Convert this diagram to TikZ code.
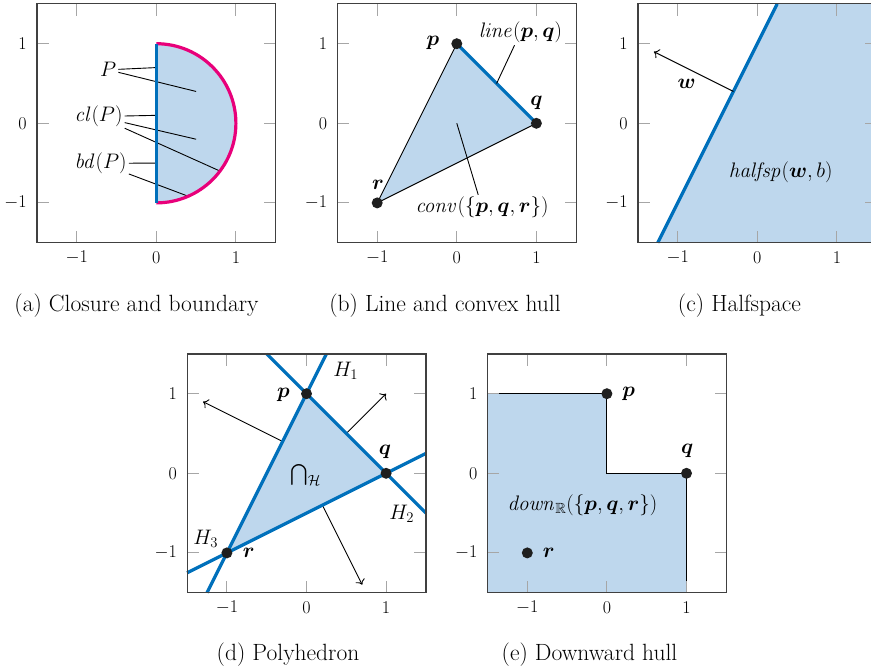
\RequirePackage{fix-cm}
\documentclass[tikz,border=0pt]{standalone}
\usepackage{amsmath,amssymb,bm}
\usetikzlibrary{arrows.meta}
\definecolor{fillblue}{RGB}{190,215,237}
\definecolor{lineblue}{RGB}{0,112,187}
\definecolor{magline}{RGB}{232,0,122}
\tikzset{
  axframe/.style={draw=black!75, line width=1.2pt},
  tk/.style={draw=black!35, line width=1pt},
  xtl/.style={font=\fontsize{18}{20}\selectfont, inner sep=0pt, anchor=center, yshift=-14.5pt},
  ytl/.style={font=\fontsize{18}{20}\selectfont, inner sep=0pt, anchor=east, xshift=-10pt},
  lbl/.style={font=\fontsize{21}{25}\selectfont, inner sep=2pt},
  captext/.style={font=\fontsize{23.5}{28}\selectfont, inner sep=0pt, anchor=base},
  bluestroke/.style={draw=lineblue, line width=3.2pt},
  magstroke/.style={draw=magline, line width=3.2pt},
  thinline/.style={draw=black, line width=0.9pt},
  pinline/.style={draw=black, line width=0.9pt},
  arrowline/.style={draw=black, line width=0.9pt, -{To[length=5pt,width=10pt]}},
  dotnode/.style={circle, fill=black!88, minimum size=11pt, inner sep=0pt}
}
\newcommand{\axisticks}[1]{%
  \foreach \t in {-1,0,1}{
    \draw[tk] (\t,-1.5) -- ++(0pt,11.7pt);
    \draw[tk] (\t,1.5) -- ++(0pt,-11.7pt);
    \draw[tk] (-1.5,\t) -- ++(11.7pt,0pt);
    \draw[tk] (1.5,\t) -- ++(-11.7pt,0pt);
    \node[xtl] (#1x\t) at (\t,-1.5) {$\t$};
    \node[ytl] (#1y\t) at (-1.5,\t) {$\t$};
  }
  \draw[axframe] (-1.5,-1.5) rectangle (1.5,1.5);
}
\begin{document}
\begin{tikzpicture}[x=1pt,y=-1pt]
\useasboundingbox (0,0) rectangle (871,669);

% ---------------- (a) ----------------
\begin{scope}[shift={(156.3,123.3)}, x=79.6pt, y=79.6pt]
  \fill[fillblue] (0,1) arc[start angle=90, end angle=-90, radius=1] -- cycle;
  \coordinate (aP1) at (0,0.7);
  \coordinate (aP2) at (0.5,0.4);
  \coordinate (aC1) at (0,0.1);
  \coordinate (aC2) at (0.5,-0.2);
  \coordinate (aC3) at (0.8,-0.6);
  \coordinate (aB1) at (0,-0.5);
  \coordinate (aB2) at (-66.4:1);
  \node[lbl] (aP) at (-0.605,0.672) {$P$};
  \node[lbl] (aCl) at (-0.725,0.085) {$\mathit{cl}(P)$};
  \node[lbl] (aBd) at (-0.70,-0.503) {$\mathit{bd}(P)$};
  \draw[pinline] (aP1) -- (aP);
  \draw[pinline] (aP2) -- (aP);
  \draw[pinline] (aC1) -- (aCl);
  \draw[pinline] (aC2) -- (aCl);
  \draw[pinline] (aC3) -- (aCl);
  \draw[pinline] (aB1) -- (aBd);
  \draw[pinline] (aB2) -- (aBd);
  \draw[magstroke] (0,1) arc[start angle=90, end angle=-90, radius=1];
  \draw[bluestroke] (0,-1) -- (0,1);
  \axisticks{a}
\end{scope}

% ---------------- (b) ----------------
\begin{scope}[shift={(456.8,123.3)}, x=79.6pt, y=79.6pt]
  \fill[fillblue] (0,1) -- (1,0) -- (-1,-1) -- cycle;
  \draw[thinline] (1,0) -- (-1,-1) -- (0,1);
  \draw[bluestroke] (0,1) -- (1,0);
  \coordinate (bL) at (0.5,0.5);
  \coordinate (bC) at (0,0);
  \node[lbl] (bline) at (0.8,1.14) {$\mathit{line}(\bm{p},\bm{q})$};
  \node[lbl] (bconv) at (0.317,-1.058) {$\mathit{conv}(\{\bm{p},\bm{q},\bm{r}\})$};
  \draw[pinline] (bL) -- (bline);
  \draw[pinline] (bC) -- (bconv);
  \node[dotnode] (bp) at (0,1) {};
  \node[dotnode] (bq) at (1,0) {};
  \node[dotnode] (br) at (-1,-1) {};
  \node[lbl] (bpl) at (-0.30,1.01) {$\bm{p}$};
  \node[lbl] (bql) at (1.0,0.26) {$\bm{q}$};
  \node[lbl] (brl) at (-0.99,-0.77) {$\bm{r}$};
  \axisticks{b}
\end{scope}

% ---------------- (c) ----------------
\begin{scope}[shift={(757.3,123.3)}, x=79.6pt, y=79.6pt]
  \fill[fillblue] (-1.25,-1.5) -- (0.25,1.5) -- (1.5,1.5) -- (1.5,-1.5) -- cycle;
  \draw[bluestroke] (-1.25,-1.5) -- (0.25,1.5);
  \coordinate (cw0) at (-0.3,0.4);
  \coordinate (cw1) at (-1.3,0.9);
  \draw[arrowline] (cw0) -- (cw1);
  \node[lbl] (cw) at (-0.887,0.496) {$\bm{w}$};
  \node[lbl] (chs) at (0.295,-0.614) {$\mathit{halfsp}(\bm{w},b)$};
  \axisticks{c}
\end{scope}

% ---------------- (d) ----------------
\begin{scope}[shift={(306.5,473.3)}, x=79.6pt, y=79.6pt]
  \fill[fillblue] (0,1) -- (1,0) -- (-1,-1) -- cycle;
  \coordinate (d10) at (-0.3,0.4);
  \coordinate (d11) at (-1.3,0.9);
  \coordinate (d20) at (0.5,0.5);
  \coordinate (d21) at (1,1);
  \coordinate (d30) at (0.2,-0.4);
  \coordinate (d31) at (0.7,-1.4);
  \draw[arrowline] (d10) -- (d11);
  \draw[arrowline] (d20) -- (d21);
  \draw[arrowline] (d30) -- (d31);
  \draw[bluestroke] (-1.25,-1.5) -- (0.25,1.5);
  \draw[bluestroke] (-0.5,1.5) -- (1.5,-0.5);
  \draw[bluestroke] (-1.5,-1.25) -- (1.5,0.25);
  \node[dotnode] (dp) at (0,1) {};
  \node[dotnode] (dq) at (1,0) {};
  \node[dotnode] (dr) at (-1,-1) {};
  \node[lbl] (dpl) at (-0.29,0.98) {$\bm{p}$};
  \node[lbl] (dql) at (0.986,0.27) {$\bm{q}$};
  \node[lbl] (drl) at (-0.726,-1.005) {$\bm{r}$};
  \node[lbl] (dH1) at (0.494,1.288) {$H_1$};
  \node[lbl] (dH2) at (1.196,-0.511) {$H_2$};
  \node[lbl] (dH3) at (-1.265,-0.823) {$H_3$};
  \node[lbl] (dcap) at (-0.01,-0.02) {$\bigcap_{\mathcal{H}}$};
  \axisticks{d}
\end{scope}

% ---------------- (e) ----------------
\begin{scope}[shift={(606.9,473.3)}, x=79.6pt, y=79.6pt]
  \fill[fillblue] (-1.5,1) -- (0,1) -- (0,0) -- (1,0) -- (1,-1.5) -- (-1.5,-1.5) -- cycle;
  \draw[thinline] (-1.5,1) -- (0,1) -- (0,0) -- (1,0) -- (1,-1.5);
  \node[dotnode] (ep) at (0,1) {};
  \node[dotnode] (eq) at (1,0) {};
  \node[dotnode] (er) at (-1,-1) {};
  \node[lbl] (epl) at (0.275,0.999) {$\bm{p}$};
  \node[lbl] (eql) at (1.009,0.286) {$\bm{q}$};
  \node[lbl] (erl) at (-0.73,-0.999) {$\bm{r}$};
  \node[lbl] (edown) at (-0.307,-0.399) {$\mathit{down}_{\mathbb{R}}(\{\bm{p},\bm{q},\bm{r}\})$};
  \axisticks{e}
\end{scope}

% ---------------- captions ----------------
\node[captext] (capa) at (136.5,311.7) {(a) Closure and boundary};
\node[captext] (capb) at (445,311.7) {(b) Line and convex hull};
\node[captext] (capc) at (739.5,311.7) {(c) Halfspace};
\node[captext] (capd) at (288,660.7) {(d) Polyhedron};
\node[captext] (cape) at (589.5,660.7) {(e) Downward hull};
\end{tikzpicture}
\end{document}
